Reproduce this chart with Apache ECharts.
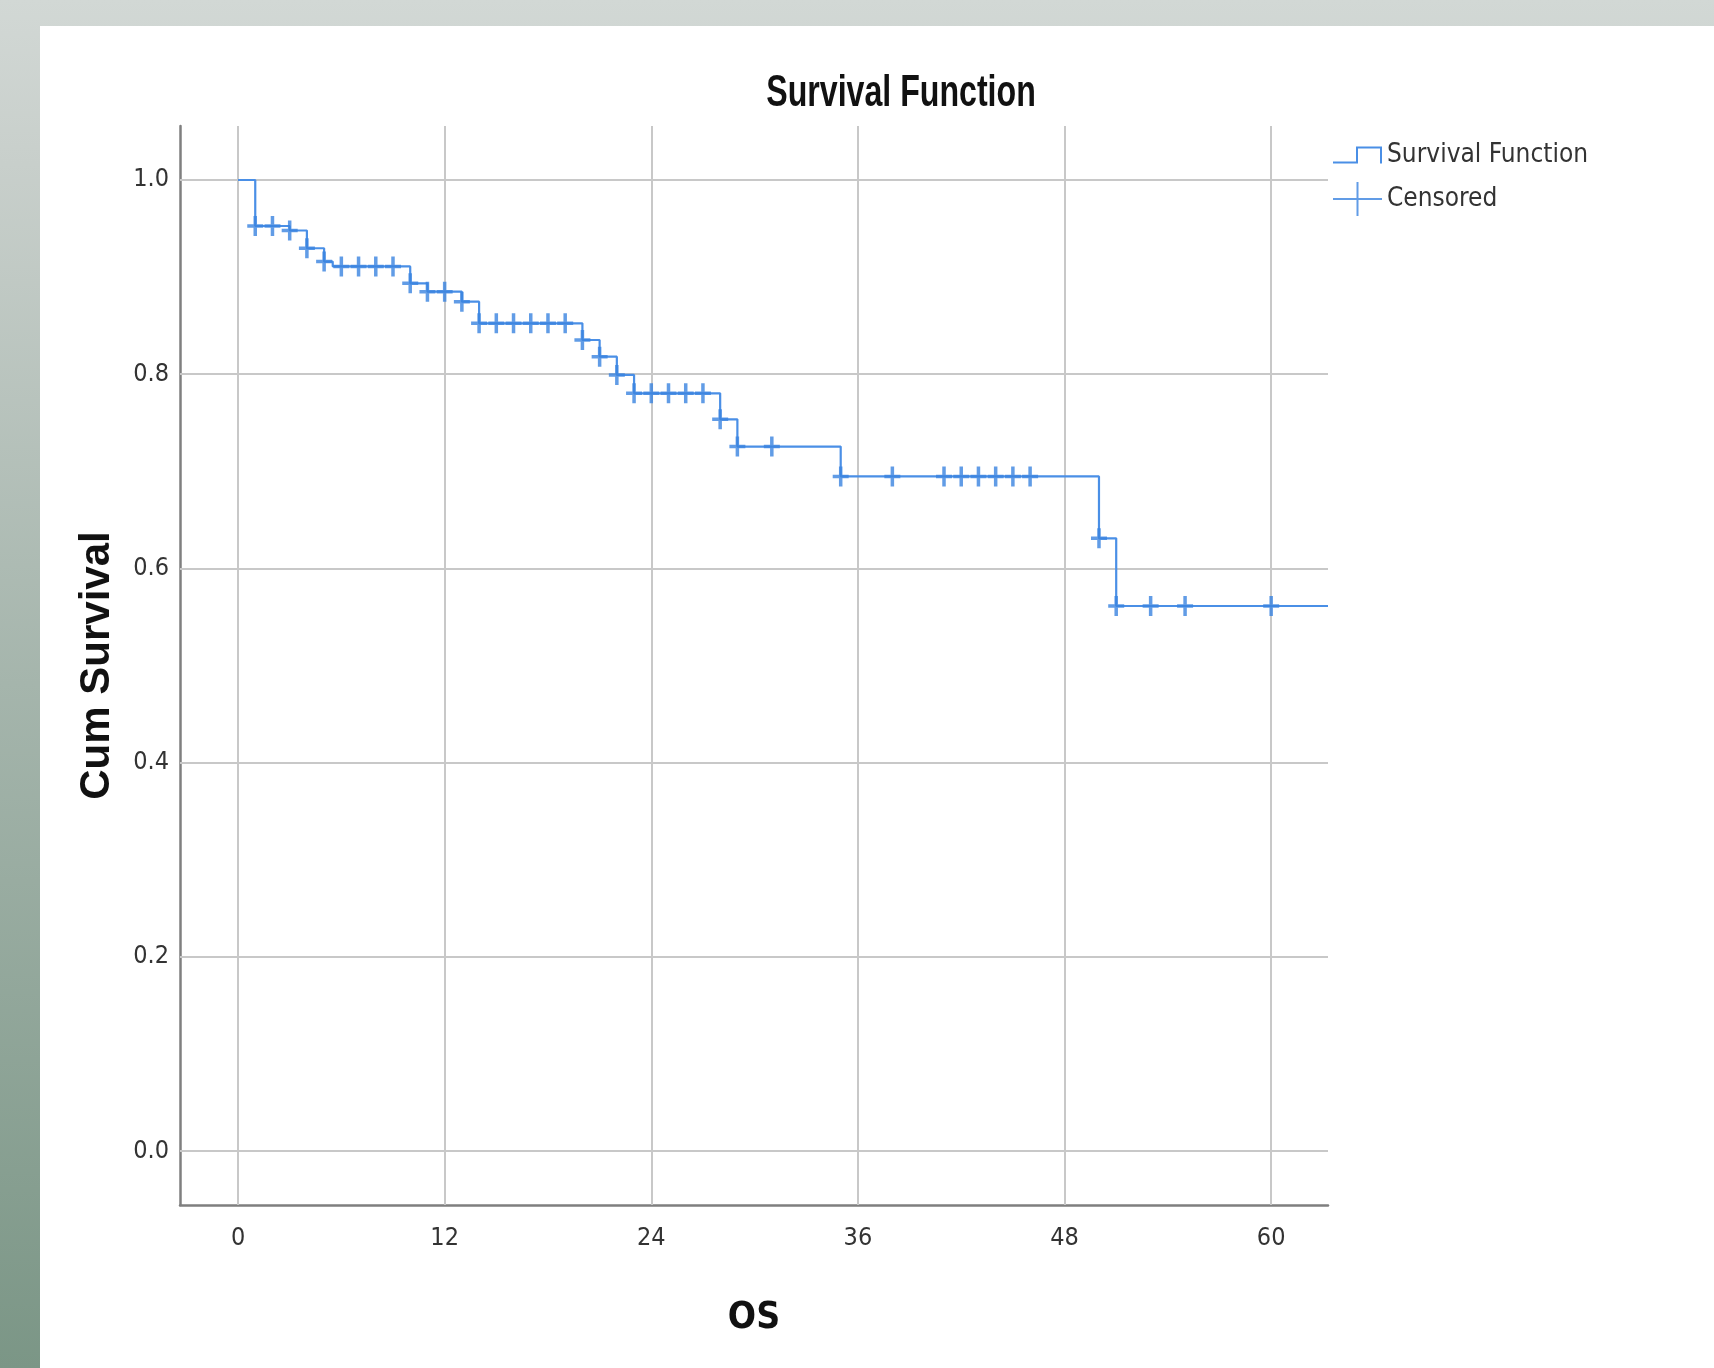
<!DOCTYPE html>
<html>
<head>
<meta charset="utf-8">
<title>Survival Function</title>
<script src="https://cdn.jsdelivr.net/npm/echarts@6/dist/echarts.min.js"></script>
<style>
html, body {
    margin: 0;
    padding: 0;
    width: 1714px;
    height: 1368px;
    overflow: hidden;
    background: linear-gradient(to bottom, #d2d8d5 0%, #c8cfcb 12%, #a5b5ac 50%, #7b9686 100%);
}
#chart {
    position: absolute;
    left: 40px;
    top: 26px;
    width: 1674px;
    height: 1342px;
    background: #ffffff;
}
</style>
</head>
<body>
<div id="chart"></div>
<script>
// Kaplan-Meier steps (time in months, cumulative survival after the step)
var stepTimes = [0, 1, 3, 4, 5, 5.5, 10, 11, 13, 14, 20, 21, 22, 23, 28, 29, 35, 50, 51, 63.3];
var stepSurv = [1.0, 0.9526, 0.948, 0.9297, 0.916, 0.911, 0.8936, 0.885, 0.8747, 0.8524,
    0.8352, 0.818, 0.7992, 0.7803, 0.7535, 0.7255, 0.6947, 0.631, 0.5613, 0.5613];

// censored cases
var censorTimes = [1, 2, 3, 4, 5, 6, 7, 8, 9, 10, 11, 12, 13, 14, 15, 16, 17, 18, 19, 20,
    21, 22, 23, 24, 25, 26, 27, 28, 29, 31, 35, 38, 41, 42, 43, 44, 45, 46, 50, 51, 53, 55, 60];
var censorSurv = [0.9526, 0.9526, 0.948, 0.9297, 0.916, 0.911, 0.911, 0.911, 0.911, 0.8936,
    0.885, 0.885, 0.8747, 0.8524, 0.8524, 0.8524, 0.8524, 0.8524, 0.8524, 0.8352,
    0.818, 0.7992, 0.7803, 0.7803, 0.7803, 0.7803, 0.7803, 0.7535, 0.7255, 0.7255,
    0.6947, 0.6947, 0.6947, 0.6947, 0.6947, 0.6947, 0.6947, 0.6947, 0.631, 0.5613,
    0.5613, 0.5613, 0.5613];

var xTicks = [0, 12, 24, 36, 48, 60];
var yTicks = [0.0, 0.2, 0.4, 0.6, 0.8, 1.0];

var narrow = '"DejaVu Sans Condensed", "Liberation Sans", Arial, sans-serif';
var arial = '"Liberation Sans", Arial, sans-serif';
var blue = '#4a8fe6';

var curveData = stepTimes.map(function (t, i) { return [t, stepSurv[i]]; });
var censorData = censorTimes.map(function (t, i) { return [t, censorSurv[i]]; });

// plus sign used for censored marks and legend
var crossPath = 'path://M0,8.25L6.25,8.25L6.25,0L9.75,0L9.75,8.25L16,8.25L16,11.75L9.75,11.75L9.75,20L6.25,20L6.25,11.75L0,11.75Z';
var legendCross = 'path://M0,16L23.5,16L23.5,0L25.5,0L25.5,16L49,16L49,18L25.5,18L25.5,34L23.5,34L23.5,18L0,18Z';
var legendStep = 'path://M0,15L23,15L23,0L49,0L49,17L47,17L47,2L25,2L25,17L0,17Z';

var myChart = echarts.init(document.getElementById('chart'));

var gridLines = yTicks.map(function (v) { return { yAxis: v }; })
    .concat(xTicks.map(function (v) { return { xAxis: v }; }));

var option = {
    animation: false,
    graphic: [
        {
            type: 'text',
            x: 861,
            y: 68,
            scaleX: 0.73,
            style: {
                text: 'Survival Function',
                textAlign: 'center',
                textVerticalAlign: 'middle',
                font: 'bold 44px ' + arial,
                fill: '#111111'
            }
        }
    ],
    legend: {
        orient: 'vertical',
        left: 1293,
        top: 116,
        padding: 0,
        itemWidth: 49,
        itemHeight: 34,
        itemGap: 14,
        selectedMode: false,
        textStyle: {
            fontFamily: narrow,
            fontSize: 26,
            color: '#333333'
        },
        data: [
            { name: 'Survival Function', icon: legendStep },
            { name: 'Censored', icon: legendCross }
        ]
    },
    grid: {
        left: 140,
        top: 100,
        right: 386,
        bottom: 163
    },
    xAxis: {
        type: 'value',
        min: -3.37,
        max: 63.3,
        name: 'OS',
        nameLocation: 'middle',
        nameGap: 95,
        nameTextStyle: {
            fontFamily: narrow,
            fontWeight: 'bold',
            fontSize: 37,
            color: '#111111'
        },
        axisLine: { onZero: false, lineStyle: { color: '#7f7f7f', width: 2.5 } },
        axisTick: { show: false },
        splitLine: { show: false },
        axisLabel: {
            customValues: xTicks,
            fontFamily: narrow,
            fontSize: 25,
            color: '#333333',
            margin: 21
        }
    },
    yAxis: {
        type: 'value',
        min: -0.0556,
        max: 1.0556,
        name: 'Cum Survival',
        nameLocation: 'middle',
        nameRotate: 90,
        nameGap: 62,
        nameTextStyle: {
            fontFamily: arial,
            fontWeight: 'bold',
            fontSize: 42,
            color: '#111111'
        },
        axisLine: { show: true, onZero: false, lineStyle: { color: '#7f7f7f', width: 2.5 } },
        axisTick: { show: false },
        splitLine: { show: false },
        axisLabel: {
            customValues: yTicks,
            formatter: function (v) { return v.toFixed(1); },
            fontFamily: narrow,
            fontSize: 25,
            color: '#333333',
            margin: 11
        }
    },
    series: [
        {
            name: 'grid',
            type: 'line',
            data: [],
            z: 1,
            silent: true,
            markLine: {
                z: 1,
                silent: true,
                symbol: 'none',
                label: { show: false },
                lineStyle: { color: '#c8c8c8', width: 2, type: 'solid' },
                data: gridLines
            }
        },
        {
            name: 'Survival Function',
            type: 'line',
            step: 'end',
            data: curveData,
            showSymbol: false,
            symbol: 'none',
            z: 3,
            itemStyle: { color: blue },
            lineStyle: { color: blue, width: 2.2 }
        },
        {
            name: 'Censored',
            type: 'scatter',
            data: censorData,
            symbol: crossPath,
            symbolSize: [16, 20],
            z: 4,
            itemStyle: { color: '#3a83e0' }
        }
    ]
};

myChart.setOption(option);
window.onresize = function () {
    myChart.resize();
};
</script>
</body>
</html>
